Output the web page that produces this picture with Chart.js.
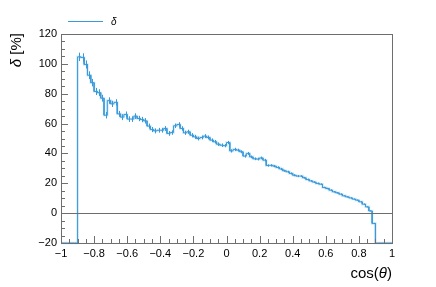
<!DOCTYPE html>
<html>
<head>
<meta charset="utf-8">
<script src="https://cdn.jsdelivr.net/npm/chart.js@4/dist/chart.umd.min.js"></script>
<style>
  html, body { margin: 0; padding: 0; background: #fff; }
  #wrap { width: 436px; height: 287px; }
</style>
</head>
<body>
<div id="wrap"><canvas id="chart" width="436" height="287"></canvas></div>
<script>
// ===== histogram data (100 bins from -1 to 1) =====
const BIN_LOW = -1;
const BIN_WIDTH = 0.02;

// bins outside [-0.9, 0.9] sit at the bottom of the frame
const deltaValues = [
  -20, -20, -20, -20, -20,
  104.7, 104.3, 99.6, 92.4, 87.4, 81.5, 80.7, 77.0, 65.6, 75.4,
  73.2, 74.2, 66.5, 64.3, 66.1, 63.0, 63.0, 65.0, 63.4, 62.7,
  61.8, 58.3, 56.0, 55.1, 55.5, 55.5, 56.7, 53.4, 54.0, 58.5,
  59.4, 56.7, 53.8, 54.5, 52.2, 51.1, 50.0, 50.7, 51.6, 50.7,
  48.9, 47.8, 46.2, 45.5, 45.2, 47.3, 41.7, 42.7, 42.2, 41.1,
  38.2, 40.0, 37.7, 36.4, 36.2, 37.0, 35.5, 31.9, 32.0, 31.5,
  30.6, 29.6, 28.4, 27.7, 26.6, 25.4, 24.8, 24.8, 23.7, 22.5,
  21.6, 20.8, 19.9, 19.4, 17.2, 16.5, 15.4, 14.3, 13.6, 12.7,
  11.6, 10.9, 10.2, 9.4, 8.7, 7.6, 6.0, 4.2, 1.5, -6.9,
  -20, -20, -20, -20, -20
];

const deltaErrors = [
  0, 0, 0, 0, 0,
  2.8, 2.8, 2.7, 2.6, 2.5, 2.4, 2.3, 2.3, 2.2, 2.2,
  2.1, 2.1, 2.0, 2.0, 2.0, 1.9, 1.9, 1.9, 1.8, 1.8,
  1.8, 1.7, 1.7, 1.7, 1.6, 1.6, 1.6, 1.6, 1.5, 1.5,
  1.5, 1.5, 1.4, 1.4, 1.4, 1.4, 1.3, 1.3, 1.3, 1.3,
  1.2, 1.2, 1.2, 1.2, 1.1, 1.1, 1.1, 1.1, 1.0, 1.0,
  1.0, 1.0, 0.9, 0.9, 0.9, 0.9, 0.9, 0.8, 0.8, 0.8,
  0.8, 0.8, 0.7, 0.7, 0.7, 0.7, 0.7, 0.6, 0.6, 0.6,
  0.6, 0.6, 0.6, 0.5, 0.5, 0.5, 0.5, 0.5, 0.5, 0.5,
  0.4, 0.4, 0.4, 0.4, 0.4, 0.4, 0.4, 0.4, 0.4, 0.4,
  0, 0, 0, 0, 0
];

const X_MIN = -1, X_MAX = 1, X_STEP = 0.2, X_MINOR = 0.05;
const Y_MIN = -20, Y_MAX = 120, Y_STEP = 20, Y_MINOR = 5;

const LINE_COLOR = "#3a9ad9";
const HALO_COLOR = "rgba(58,154,217,0.22)";
const FRAME_COLOR = "#6e6e6e";
const FONT = "'Liberation Sans', Arial, Helvetica, sans-serif";

// ===== helpers =====
function fmtTick(v){
  const r = Number(v.toFixed(2));
  if (r === 0) return "0";
  return r < 0 ? "\u2212" + Math.abs(r) : String(r);
}

// step outline: two points per bin (low edge, high edge)
function histPoints(){
  const pts = [];
  deltaValues.forEach((v, i) => {
    const lo = BIN_LOW + i * BIN_WIDTH;
    pts.push({ x: lo, y: v });
    pts.push({ x: lo + BIN_WIDTH, y: v });
  });
  return pts;
}

// ===== ROOT-like frame, ticks, titles, error bars =====
const rootFrame = {
  id: "rootFrame",
  afterDatasetsDraw(chart){
    const { ctx, chartArea: a, scales: { x, y } } = chart;
    ctx.save();

    // error bars
    ctx.strokeStyle = LINE_COLOR;
    ctx.lineWidth = 1;
    deltaValues.forEach((v, i) => {
      const e = deltaErrors[i];
      if (!e) return;
      const px = Math.round(x.getPixelForValue(BIN_LOW + (i + 0.5) * BIN_WIDTH)) + 0.5;
      ctx.beginPath();
      ctx.moveTo(px, y.getPixelForValue(v - e));
      ctx.lineTo(px, y.getPixelForValue(v + e));
      ctx.stroke();
    });

    // frame
    ctx.strokeStyle = FRAME_COLOR;
    ctx.lineWidth = 1;
    ctx.strokeRect(Math.round(a.left) + 0.5, Math.round(a.top) + 0.5,
                   Math.round(a.right - a.left), Math.round(a.bottom - a.top));

    // zero line
    const y0 = Math.round(y.getPixelForValue(0)) + 0.5;
    ctx.beginPath();
    ctx.moveTo(a.left, y0);
    ctx.lineTo(a.right, y0);
    ctx.stroke();

    // x ticks (inside, pointing up)
    const nx = Math.round((X_MAX - X_MIN) / X_MINOR);
    for (let k = 0; k <= nx; k++){
      const v = X_MIN + k * X_MINOR;
      const major = k % Math.round(X_STEP / X_MINOR) === 0;
      const px = Math.round(x.getPixelForValue(v)) + 0.5;
      ctx.beginPath();
      ctx.moveTo(px, a.bottom);
      ctx.lineTo(px, a.bottom - (major ? 7 : 4));
      ctx.stroke();
    }
    // y ticks (inside, pointing right)
    const ny = Math.round((Y_MAX - Y_MIN) / Y_MINOR);
    for (let k = 0; k <= ny; k++){
      const v = Y_MIN + k * Y_MINOR;
      const major = k % Math.round(Y_STEP / Y_MINOR) === 0;
      const py = Math.round(y.getPixelForValue(v)) + 0.5;
      ctx.beginPath();
      ctx.moveTo(a.left, py);
      ctx.lineTo(a.left + (major ? 7 : 4), py);
      ctx.stroke();
    }

    // x title: cos(θ), right aligned to the frame
    ctx.fillStyle = "#000";
    ctx.textBaseline = "alphabetic";
    const tyX = 278;
    ctx.font = `15px ${FONT}`;
    const wClose = ctx.measureText(")").width;
    ctx.font = `italic 15px ${FONT}`;
    const wTheta = ctx.measureText("\u03b8").width;
    ctx.font = `15px ${FONT}`;
    const wOpen = ctx.measureText("cos(").width;
    let tx = a.right - wClose - wTheta - wOpen;
    ctx.textAlign = "left";
    ctx.fillText("cos(", tx, tyX);
    ctx.font = `italic 15px ${FONT}`;
    ctx.fillText("\u03b8", tx + wOpen, tyX);
    ctx.font = `15px ${FONT}`;
    ctx.fillText(")", tx + wOpen + wTheta, tyX);

    // y title: δ [%], rotated, ending at the top of the frame
    ctx.save();
    ctx.translate(21, a.top - 1);
    ctx.rotate(-Math.PI / 2);
    ctx.font = `15px ${FONT}`;
    const wRest = ctx.measureText(" [%]").width;
    ctx.font = `italic 15px ${FONT}`;
    const wDelta = ctx.measureText("\u03b4").width;
    ctx.textAlign = "left";
    ctx.fillText("\u03b4", -(wRest + wDelta), 0);
    ctx.font = `15px ${FONT}`;
    ctx.fillText(" [%]", -wRest, 0);
    ctx.restore();

    // legend
    ctx.strokeStyle = LINE_COLOR;
    ctx.lineWidth = 1;
    ctx.beginPath();
    ctx.moveTo(68, 21.5);
    ctx.lineTo(103, 21.5);
    ctx.stroke();
    ctx.font = `italic 10px ${FONT}`;
    ctx.fillStyle = "#000";
    ctx.fillText("\u03b4", 111, 25);

    ctx.restore();
  }
};

// ===== chart =====
const points = histPoints();

new Chart(document.getElementById("chart"), {
  type: "line",
  data: {
    datasets: [
      { data: points, borderColor: HALO_COLOR, borderWidth: 2.5, pointRadius: 0, tension: 0, fill: false, clip: 2 },
      { data: points, borderColor: LINE_COLOR, borderWidth: 1, pointRadius: 0, tension: 0, fill: false, clip: 2 }
    ]
  },
  options: {
    responsive: false,
    animation: false,
    devicePixelRatio: 1,
    layout: { padding: { left: 0, right: 44, top: 34, bottom: 0 } },
    plugins: { legend: { display: false }, tooltip: { enabled: false } },
    scales: {
      x: {
        type: "linear", min: X_MIN, max: X_MAX,
        grid: { display: false, drawTicks: false },
        border: { display: false },
        afterFit: s => { s.height = 44; },
        ticks: {
          stepSize: X_STEP, padding: 4, color: "#000", maxRotation: 0, autoSkip: false,
          font: { family: FONT, size: 11 },
          callback: v => fmtTick(v)
        }
      },
      y: {
        type: "linear", min: Y_MIN, max: Y_MAX,
        grid: { display: false, drawTicks: false },
        border: { display: false },
        afterFit: s => { s.width = 61; },
        ticks: {
          stepSize: Y_STEP, padding: 4, color: "#000",
          font: { family: FONT, size: 11 },
          callback: v => fmtTick(v)
        }
      }
    }
  },
  plugins: [rootFrame]
});
</script>
</body>
</html>
